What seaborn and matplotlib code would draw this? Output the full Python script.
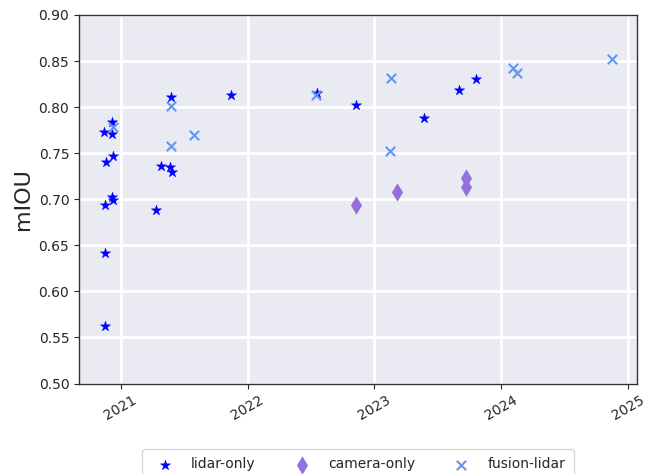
import pandas as pd
import matplotlib.pyplot as plt
import matplotlib.dates as mdates
import seaborn as sns

# lidar-only results
lidar_dates = ['2020-12-08', '2020-11-15', '2020-12-08', '2020-12-09', '2020-11-21',
               '2020-12-08', '2020-12-10', '2020-11-18', '2020-11-18', '2020-11-18',
               '2021-05-26', '2021-04-26', '2021-05-22', '2021-05-29', '2021-04-14',
               '2021-11-15', '2022-07-21', '2022-11-08', '2023-05-23', '2023-09-01',
               '2023-10-22']
lidar_miou = [0.784, 0.773, 0.771, 0.747, 0.740,
              0.702, 0.699, 0.694, 0.642, 0.562,
              0.811, 0.736, 0.7345, 0.730, 0.688,
              0.813, 0.815, 0.802, 0.788, 0.819,
              0.830]

# camera-only results
camera_dates = ['2022-11-10', '2023-03-08', '2023-09-23', '2023-09-21']
camera_miou = [0.694, 0.708, 0.723, 0.713]

# fusion-lidar results
fusion_dates = ['2020-12-09', '2021-05-26', '2021-08-01', '2021-05-26', '2022-07-16',
                '2023-02-19', '2023-02-15', '2024-02-03', '2024-02-15', '2024-11-14']
fusion_miou = [0.7786, 0.801, 0.770, 0.758, 0.813,
               0.832, 0.7527, 0.843, 0.8375, 0.852]

sns.set_style("darkgrid", {'axes.edgecolor': '0.2', 'xtick.bottom': True, 'ytick.left': True})

fig = plt.figure(figsize=(6.53, 4.74), dpi=100)
ax = fig.add_axes([79 / 653, 1 - 383.5 / 474, 558 / 653, 368.5 / 474])

sns.scatterplot(x=pd.to_datetime(lidar_dates), y=lidar_miou, marker='*', color='blue',
                edgecolor='blue', linewidth=0.3, s=60, label='lidar-only', ax=ax)
sns.scatterplot(x=pd.to_datetime(camera_dates), y=camera_miou, marker='d', color='mediumpurple',
                edgecolor='mediumpurple', linewidth=0.3, s=80, label='camera-only', ax=ax)
sns.scatterplot(x=pd.to_datetime(fusion_dates), y=fusion_miou, marker='x', color='cornflowerblue',
                linewidth=1.5, s=45, label='fusion-lidar', ax=ax)

for sp in ax.spines.values():
    sp.set_visible(True)
    sp.set_linewidth(1.0)

ax.grid(True, color='white', linewidth=2.0)
ax.xaxis.set_major_locator(mdates.YearLocator())
ax.xaxis.set_major_formatter(mdates.DateFormatter('%Y'))
ax.set_ylim(0.5, 0.9)
ax.set_ylabel("mIOU", fontsize=16)
ax.set_xlabel("")
plt.xticks(rotation=30)

leg = ax.legend(loc='upper center', bbox_to_anchor=(0.5, -0.159), ncol=3, facecolor='white',
                handletextpad=0.9, columnspacing=2.3, borderpad=0.6)

plt.savefig('out.png', dpi=100)
